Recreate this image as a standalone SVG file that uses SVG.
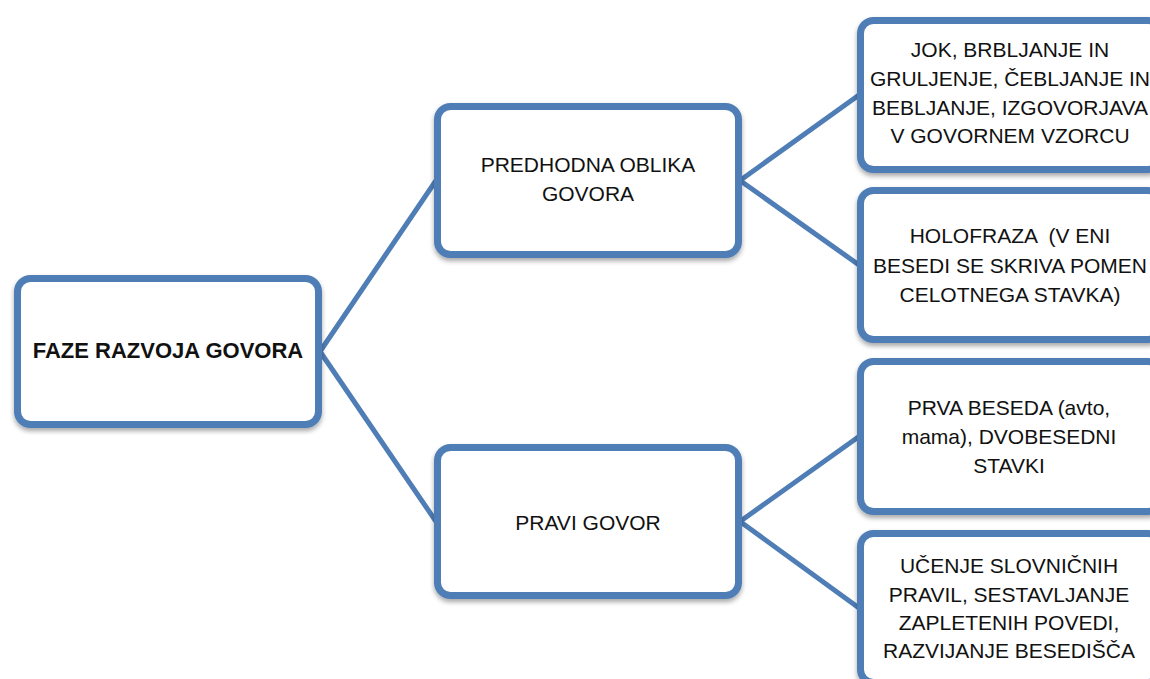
<svg xmlns="http://www.w3.org/2000/svg" width="1150" height="679" viewBox="0 0 1150 679">
<style>
.box{fill:#ffffff;stroke:#4f7db5;stroke-width:7;filter:url(#sh)}
.con{stroke:#4f7db5;stroke-width:5;fill:none;stroke-linecap:round}
.t{font-family:"Liberation Sans",Arial,sans-serif;font-size:21px;fill:#111;text-anchor:middle}
.b{font-weight:bold;font-size:22px}
</style>
<defs>
<filter id="sh" x="-10%" y="-10%" width="120%" height="125%">
<feGaussianBlur in="SourceAlpha" stdDeviation="2.5"/>
<feOffset dx="0" dy="3" result="o"/>
<feComponentTransfer><feFuncA type="linear" slope="0.35"/></feComponentTransfer>
<feMerge><feMergeNode/><feMergeNode in="SourceGraphic"/></feMerge>
</filter>
</defs>
<rect width="1150" height="679" fill="#ffffff"/>
<g id="connectors">
<line class="con" x1="320" y1="351.5" x2="436" y2="180.5"/>
<line class="con" x1="320" y1="351.5" x2="436" y2="521.5"/>
<line class="con" x1="740" y1="180.5" x2="859" y2="95"/>
<line class="con" x1="740" y1="180.5" x2="859" y2="265"/>
<line class="con" x1="740" y1="521.5" x2="859" y2="436.5"/>
<line class="con" x1="740" y1="521.5" x2="859" y2="608"/>
</g>
<g id="root">
<rect class="box" x="17.5" y="278.5" width="301" height="146" rx="13"/>
<text class="t b" x="168" y="358">FAZE RAZVOJA GOVORA</text>
</g>
<g id="predhodna">
<rect class="box" x="437.5" y="106.5" width="301" height="148" rx="13"/>
<text class="t" x="588" y="172">PREDHODNA OBLIKA</text>
<text class="t" x="588" y="201">GOVORA</text>
</g>
<g id="pravi">
<rect class="box" x="437.5" y="447.5" width="301" height="148" rx="13"/>
<text class="t" x="588" y="530">PRAVI GOVOR</text>
</g>
<g id="jok">
<rect class="box" x="860.5" y="20.5" width="301" height="149" rx="13"/>
<text class="t" x="1010" y="57">JOK, BRBLJANJE IN</text>
<text class="t" x="1010" y="86">GRULJENJE, ČEBLJANJE IN</text>
<text class="t" x="1010" y="115">BEBLJANJE, IZGOVORJAVA</text>
<text class="t" x="1010" y="143">V GOVORNEM VZORCU</text>
</g>
<g id="holofraza">
<rect class="box" x="860.5" y="190.5" width="301" height="149" rx="13"/>
<text class="t" x="1010" y="243" style="white-space:pre">HOLOFRAZA  (V ENI</text>
<text class="t" x="1010" y="273">BESEDI SE SKRIVA POMEN</text>
<text class="t" x="1010" y="302">CELOTNEGA STAVKA)</text>
</g>
<g id="prva">
<rect class="box" x="860.5" y="361.5" width="301" height="150" rx="13"/>
<text class="t" x="1009" y="415">PRVA BESEDA (avto,</text>
<text class="t" x="1009" y="444">mama), DVOBESEDNI</text>
<text class="t" x="1009" y="473">STAVKI</text>
</g>
<g id="ucenje">
<rect class="box" x="860.5" y="533.5" width="301" height="149" rx="13"/>
<text class="t" x="1009" y="573">UČENJE SLOVNIČNIH</text>
<text class="t" x="1009" y="602">PRAVIL, SESTAVLJANJE</text>
<text class="t" x="1009" y="630">ZAPLETENIH POVEDI,</text>
<text class="t" x="1009" y="658">RAZVIJANJE BESEDIŠČA</text>
</g>
</svg>
